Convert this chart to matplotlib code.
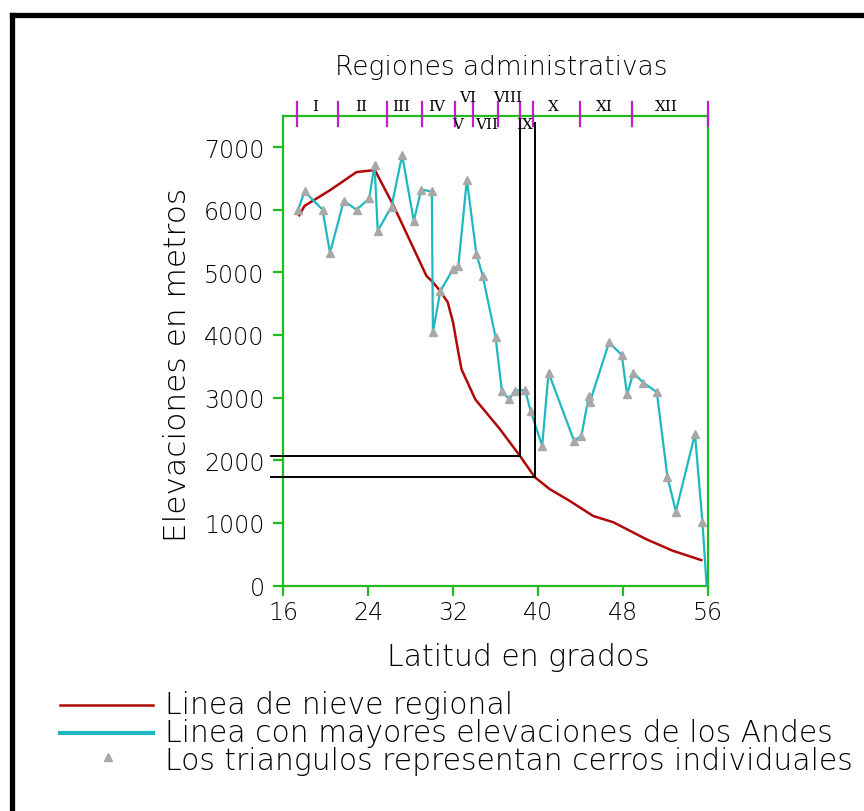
import matplotlib
matplotlib.use("Agg")
import matplotlib.pyplot as plt
from matplotlib.lines import Line2D

# ---------------- data ----------------
peak_lat = [17.4, 18.0, 19.7, 20.4, 21.7, 22.9, 24.1, 24.6, 24.9, 26.2, 27.2, 28.3,
            29.0, 30.0, 30.1, 30.8, 32.0, 32.5, 33.3, 34.2, 34.8, 36.0, 36.6, 37.3,
            37.8, 38.8, 39.3, 40.4, 41.0, 43.4, 44.1, 44.8, 44.9, 46.7, 47.9, 48.4,
            49.0, 49.9, 51.2, 52.2, 53.0, 54.8, 55.5, 55.9]
peak_elev = [6000, 6290, 6000, 5310, 6140, 6000, 6180, 6720, 5660, 6050, 6870, 5820,
             6320, 6290, 4040, 4700, 5050, 5100, 6480, 5290, 4940, 3970, 3110, 2970,
             3110, 3120, 2790, 2230, 3400, 2310, 2390, 3030, 2930, 3880, 3680, 3050,
             3400, 3240, 3090, 1740, 1180, 2420, 1020, 0]
# points where no individual peak marker is drawn (last point at sea level)
marker_flags = [True] * (len(peak_lat) - 1) + [False]

snow_lat = [17.5, 18.0, 20.4, 22.9, 24.5, 24.7, 25.1, 26.4, 29.5, 30.0, 30.8, 31.5,
            32.0, 32.5, 32.8, 34.1, 36.4, 38.3, 39.7, 41.1, 43.0, 45.2, 47.1, 50.2,
            52.7, 55.4]
snow_elev = [5910, 6060, 6310, 6600, 6630, 6610, 6480, 6060, 4940, 4860, 4700, 4520,
             4200, 3720, 3450, 2970, 2500, 2070, 1730, 1540, 1350, 1110, 1010, 740,
             555, 405]

# reference guide lines (two snow-line readings)
guide_lat = [38.35, 39.70]
guide_elev = [2070, 1726]
guide_top = [7700, 7380]

region_bounds = [17.26, 21.18, 25.74, 29.03, 32.17, 33.89, 36.24, 38.29, 39.54,
                 43.93, 48.90, 56.0]
region_names = ["I", "II", "III", "IV", "V", "VI", "VII", "VIII", "IX", "X", "XI", "XII"]
region_label_lat = [18.98, 23.38, 27.15, 30.44, 32.48, 33.42, 35.15, 37.19, 38.76,
                    41.42, 46.29, 52.10]
region_label_row = ["mid", "mid", "mid", "mid", "low", "high", "low", "high", "low",
                    "mid", "mid", "mid"]

x_ticks = [16, 24, 32, 40, 48, 56]
y_ticks = [0, 1000, 2000, 3000, 4000, 5000, 6000, 7000]

title = "Regiones administrativas"
xlabel = "Latitud en grados"
ylabel = "Elevaciones en metros"
legend_labels = ["Linea de nieve regional",
                 "Linea con mayores elevaciones de los Andes",
                 "Los triangulos representan cerros individuales"]

# ---------------- style ----------------
W, H = 864, 812
RED = "#b00808"
CYAN = "#1fb8c0"
GREEN = "#22bb22"
MAGENTA = "#c020c8"
GREY = "#a8a8a8"
WEIGHT = "light"

plt.rcParams["font.family"] = ["DejaVu Sans"]

fig = plt.figure(figsize=(W / 100, H / 100), dpi=100)

def fx(px):
    return px / W

def fy(py):
    return 1 - py / H

ax = fig.add_axes([fx(283.3), fy(586.5), (707.7 - 283.3) / W, (586.5 - 116.7) / H])
ax.set_xlim(16, 56)
ax.set_ylim(0, 7500)

# lines
ax.plot(snow_lat, snow_elev, color=RED, lw=1.8, zorder=3)
ax.plot(peak_lat, peak_elev, color=CYAN, lw=1.6, zorder=4)
mk_x = [x for x, f in zip(peak_lat, marker_flags) if f]
mk_y = [y for y, f in zip(peak_elev, marker_flags) if f]
ax.plot(mk_x, mk_y, linestyle="none", marker="^", ms=6, color=GREY,
        markeredgecolor=GREY, zorder=5)

# guide lines
for gx, gy, gt in zip(guide_lat, guide_elev, guide_top):
    ax.plot([14.84, gx], [gy, gy], color="black", lw=1.4, clip_on=False, zorder=6)
    ax.plot([gx, gx], [gy, gt], color="black", lw=1.4, clip_on=False, zorder=6)

# spines and ticks
for s in ax.spines.values():
    s.set_color(GREEN)
    s.set_linewidth(1.6)
ax.set_xticks(x_ticks)
ax.set_yticks(y_ticks)
ax.tick_params(axis="both", colors=GREEN, labelcolor="black", direction="out",
               length=7.5, width=1.6, labelsize=17)
ax.tick_params(axis="y", pad=6)
ax.tick_params(axis="x", pad=3)
for lbl in ax.get_xticklabels() + ax.get_yticklabels():
    lbl.set_fontweight(WEIGHT)

# region boundaries and labels
row_y = {"high": 7800, "mid": 7655, "low": 7368}
for b in region_bounds:
    ax.plot([b, b], [7335, 7720], color=MAGENTA, lw=1.6, clip_on=False, zorder=7)
for name, lx, row in zip(region_names, region_label_lat, region_label_row):
    ax.text(lx, row_y[row], name, ha="center", va="center", fontsize=11,
            family="DejaVu Serif", clip_on=False, zorder=8)

# titles and labels
fig.text(fx(501), fy(68), title, ha="center", va="center", fontsize=19,
         fontweight=WEIGHT)
fig.text(fx(518), fy(657), xlabel, ha="center", va="center", fontsize=21.5,
         fontweight=WEIGHT)
fig.text(fx(178), fy(365), ylabel, ha="center", va="center", fontsize=22.5,
         rotation=90, fontweight=WEIGHT)

# legend (drawn manually)
leg_rows = [705.7, 734, 762]
fig.add_artist(Line2D([fx(60), fx(153)], [fy(705.7), fy(705.7)], color=RED, lw=1.8))
fig.add_artist(Line2D([fx(60), fx(153)], [fy(734), fy(734)], color=CYAN, lw=3))
fig.add_artist(Line2D([fx(108)], [fy(758)], marker="^", ms=6, color=GREY,
                      linestyle="none"))
for lab, ry in zip(legend_labels, leg_rows):
    fig.text(fx(165), fy(ry), lab, ha="left", va="center", fontsize=21.4,
             fontweight=WEIGHT)

# outer frame (top and left edges)
fig.add_artist(Line2D([fx(12), fx(864)], [fy(15.5), fy(15.5)], color="black", lw=3.8))
fig.add_artist(Line2D([fx(12), fx(12)], [fy(15.5), fy(812)], color="black", lw=3.8))

fig.savefig("out.png", dpi=100)
